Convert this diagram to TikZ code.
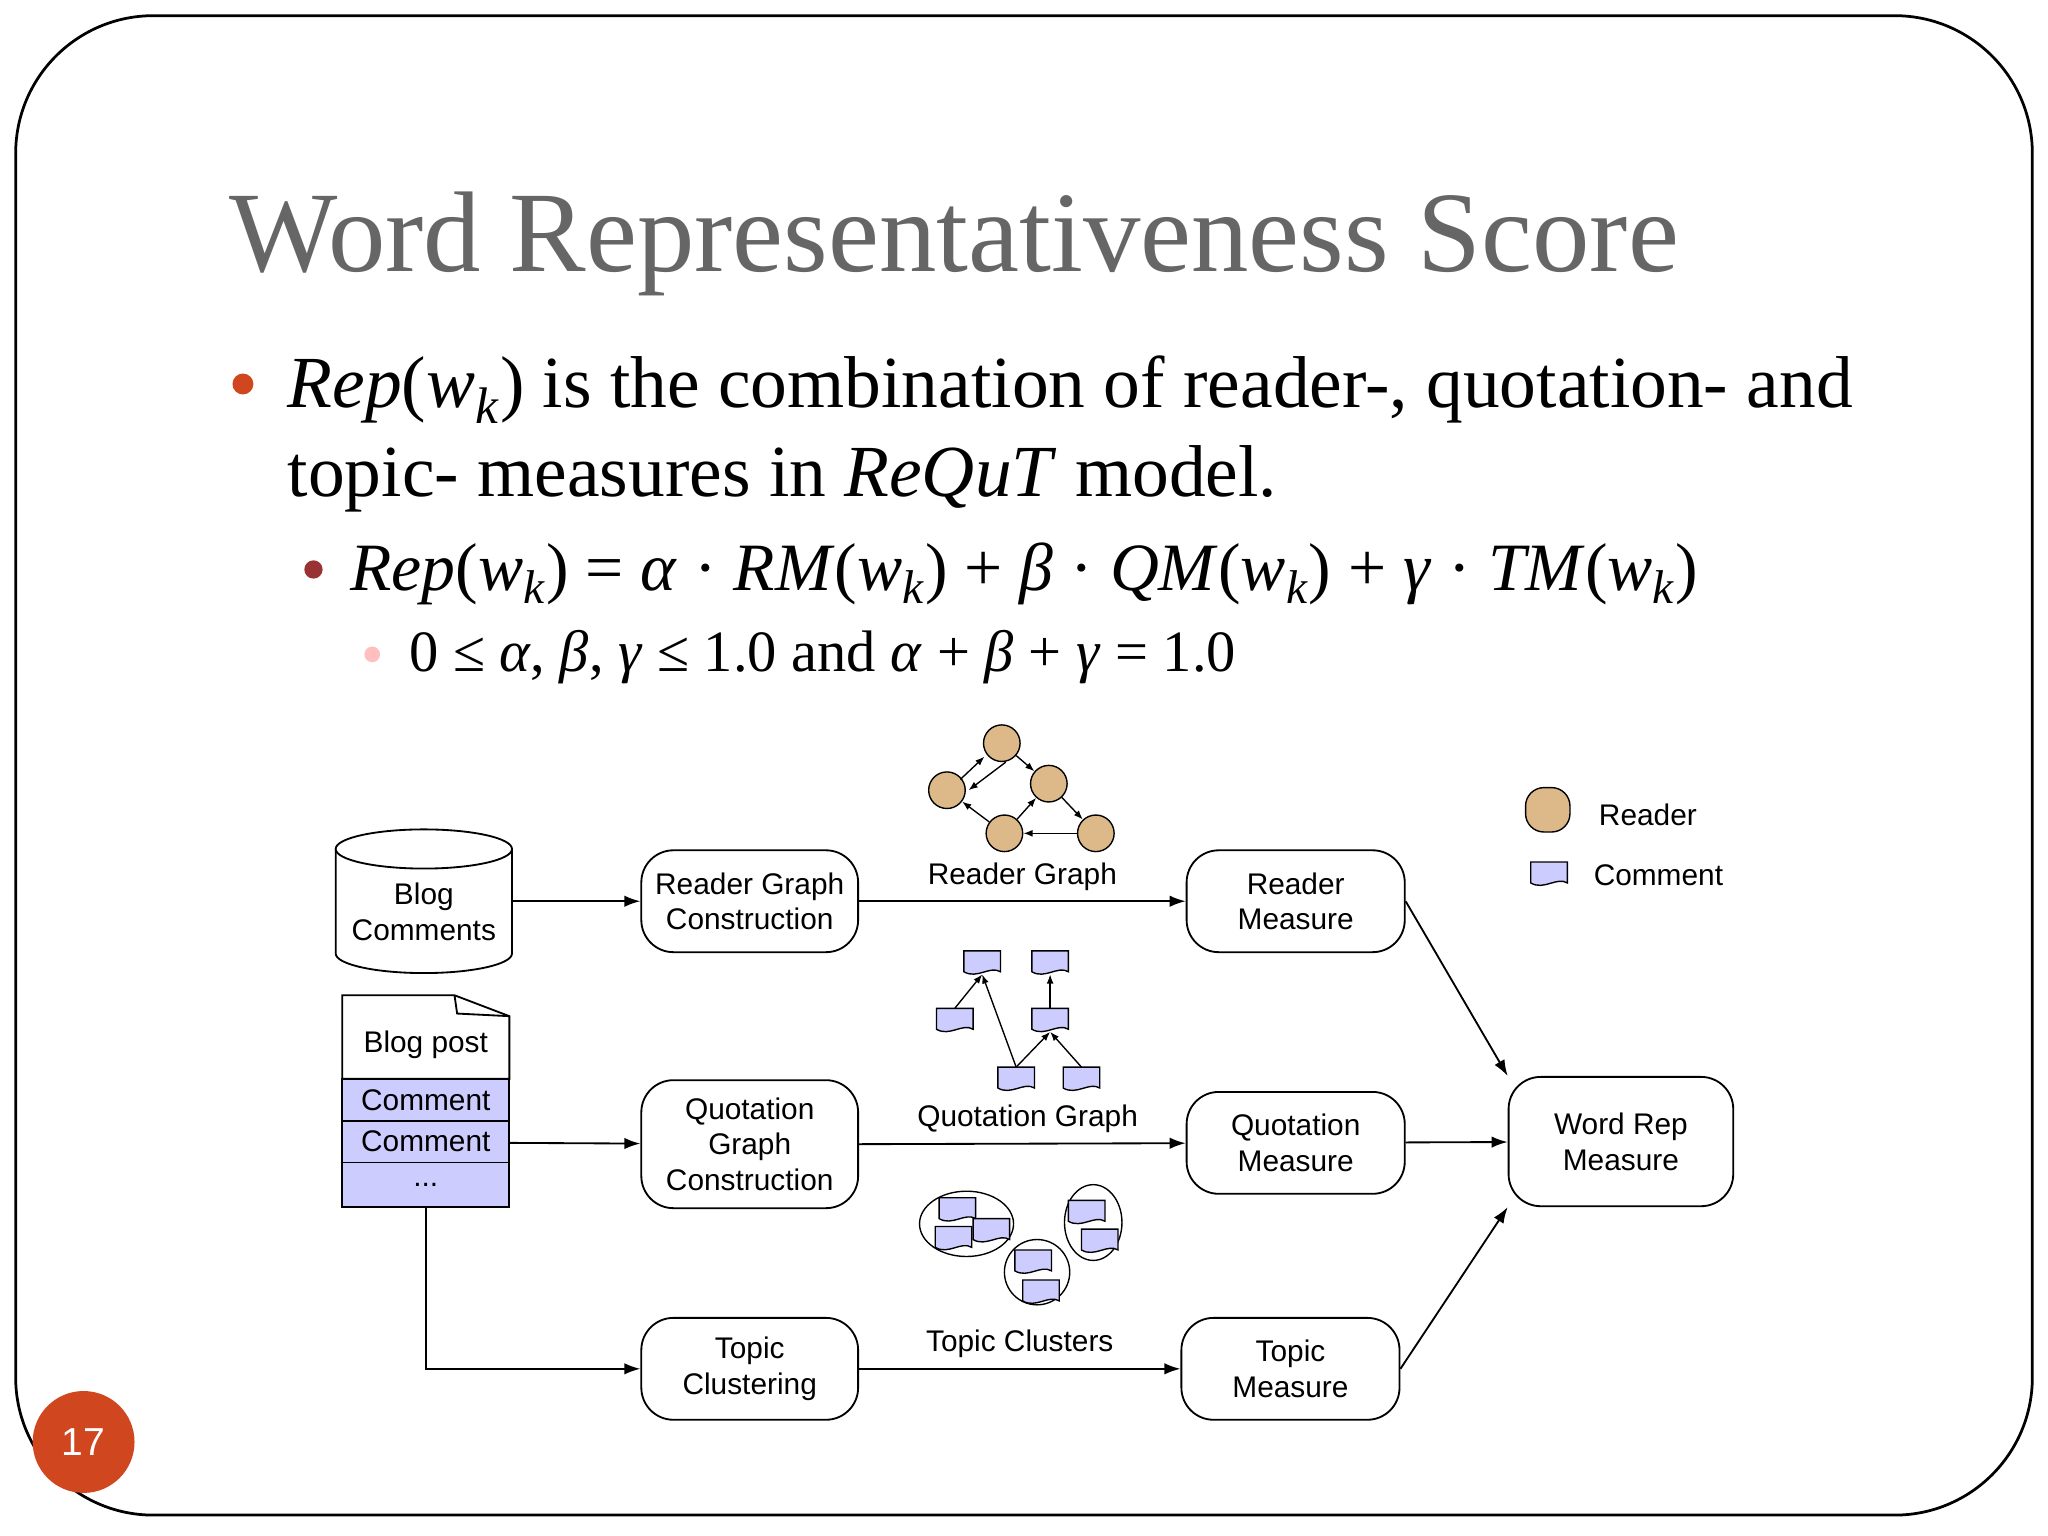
\documentclass[tikz,border=0pt]{standalone}
\usepackage{fontspec}
\setmainfont{Liberation Serif}
\newfontfamily\arialf{Liberation Sans}
\usetikzlibrary{arrows.meta,shapes.geometric}
\definecolor{lav}{HTML}{CCCCFF}
\definecolor{tan}{HTML}{DDB888}
\definecolor{orng}{HTML}{D0461E}
\tikzset{
 box/.style={draw,rounded corners=14pt,minimum width=166\u,minimum height=78\u,align=center,font=\arialf\fontsize{13}{15.5}\selectfont,thick},
 lab/.style={font=\arialf\fontsize{13}{15.5}\selectfont},
 arr/.style={-{Latex[length=7pt,width=5pt]},thick},
 sarr/.style={-{Latex[length=4pt,width=3pt]},semithick},
 rd/.style={circle,draw,fill=tan,minimum size=28\u,inner sep=0pt,semithick},
 pics/doc/.style={code={\draw[fill=lav,semithick] (-14,-9)--(14,-9)--(14,7) .. controls (6,2) and (-4,13) .. (-14,7) -- cycle;}},
}
\def\u{*0.02cm}
\begin{document}
\begin{tikzpicture}[x=0.02cm,y=-0.02cm]
\useasboundingbox (0,0) rectangle (1568,1176);
\fill[white] (0,0) rectangle (1568,1176);
\draw[line width=1.2pt,rounded corners=60] (12,12) rectangle (1556,1160);
% title
\node[anchor=base west,inner sep=0,text=black!60,font=\fontsize{50}{56}\selectfont] (title) at (175,208) {Word Representativeness Score};
\fill[orng] (186,294) circle (8);
\node[anchor=base west,inner sep=0,font=\fontsize{32}{40}\selectfont] (b1) at (220,312) {\textit{Rep}(\textit{w}\textsubscript{\textit{k}}) is the combination of reader-, quotation- and};
\node[anchor=base west,inner sep=0,font=\fontsize{32}{40}\selectfont] (b1b) at (220,380) {topic- measures in \textit{ReQuT} model.};
\fill[red!50!black!80] (240,436) circle (7);
\node[anchor=base west,inner sep=0,font=\fontsize{29.5}{36}\selectfont] (b2) at (268,452) {\textit{Rep}(\textit{w}\textsubscript{\textit{k}}) = \textit{α} · \textit{RM}(\textit{w}\textsubscript{\textit{k}}) + \textit{β} · \textit{QM}(\textit{w}\textsubscript{\textit{k}}) + \textit{γ} · \textit{TM}(\textit{w}\textsubscript{\textit{k}})};
\fill[red!25] (285,501) circle (6);
\node[anchor=base west,inner sep=0,font=\fontsize{25.5}{30}\selectfont] (b3) at (313,514) {0 ≤ \textit{α}, \textit{β}, \textit{γ} ≤ 1.0 and \textit{α} + \textit{β} + \textit{γ} = 1.0};
% page number
\fill[orng] (64,1104) circle (39);
\node[text=white,font=\arialf\fontsize{17}{20}\selectfont] (pn) at (64,1104) {17};
% blog comments cylinder
\draw[thick,fill=white] (257,650) -- (257,730) arc[x radius=67.5,y radius=15,start angle=180,end angle=0] -- (392,650);
\draw[thick,fill=white] (324.5,650) ellipse[x radius=67.5,y radius=15];
\node[lab,align=center] (bc) at (324.5,698) {Blog\\Comments};
\coordinate (bcr) at (392,690);
% blog post
\draw[thick,fill=white] (262,762) -- (348,762) -- (390,778) -- (390,826) -- (262,826) -- cycle;
\draw[thick] (348,762) -- (350,776) -- (390,778);
\node[lab] (bp) at (326,800) {Blog post};
\draw[thick,fill=lav] (262,826) rectangle (390,858);
\draw[thick,fill=lav] (262,858) rectangle (390,890);
\draw[thick,fill=lav] (262,890) rectangle (390,924);
\node[lab] (c1) at (326,842) {Comment};
\node[lab] (c2) at (326,874) {Comment};
\node[lab] (c3) at (326,907) {...};
\coordinate (bpr) at (390,875);
\coordinate (bpb) at (326,924);
\coordinate (bpc) at (326,1048);
% boxes
\node[box] (rgc) at (574,690) {Reader Graph\\Construction};
\node[box,minimum height=98\u] (qgc) at (574,876) {Quotation\\Graph\\Construction};
\node[box] (tc) at (574,1048) {Topic\\Clustering};
\node[box,minimum width=167\u] (rm) at (992,690) {Reader\\Measure};
\node[box,minimum width=167\u] (qm) at (992,875) {Quotation\\Measure};
\node[box,minimum width=167\u] (tm) at (988,1048) {Topic\\Measure};
\node[box,minimum width=172\u,minimum height=99\u] (wr) at (1241,874) {Word Rep\\Measure};
% arrows
\draw[arr] (bcr) -- (rgc);
\draw[arr] (bpr) -- (qgc);
\draw[arr] (bpb) -- (bpc) -- (tc);
\draw[arr] (rgc) -- node[lab,above=1pt] {Reader Graph} (rm);
\draw[arr] (qgc.east) -- node[lab,above=1pt,xshift=4\u] {Quotation Graph} (qm);
\draw[arr] (tc) -- node[lab,above=1pt] {Topic Clusters} (tm);
\draw[arr] (rm.east) -- (wr.north west);
\draw[arr] (qm) -- (wr);
\draw[arr] (tm.east) -- (wr.south west);
% reader graph icon
\node[rd] (r1) at (767,569) {};
\node[rd] (r2) at (725,605) {};
\node[rd] (r3) at (803,600) {};
\node[rd] (r4) at (769,638) {};
\node[rd] (r5) at (839,638) {};
\draw[sarr] ([yshift=-2\u]r2.north east) -- ([xshift=-3\u]r1.south west);
\draw[sarr] ([xshift=3\u]r1.south) -- ([xshift=2\u]r2.east);
\draw[sarr] (r1) -- (r3);
\draw[sarr] (r4) -- (r3);
\draw[sarr] (r3) -- (r5);
\draw[sarr] (r5) -- (r4);
\draw[sarr] (r4) -- (r2);
% quotation graph icon
\pic (q1) at (752,737) {doc};
\pic (q2) at (804,737) {doc};
\pic (q3) at (731,781) {doc};
\pic (q4) at (804,781) {doc};
\pic (q5) at (778,826) {doc};
\pic (q6) at (828,826) {doc};
\coordinate (q1b) at (752,746); \coordinate (q2b) at (804,746);
\coordinate (q3t) at (731,772); \coordinate (q4t) at (804,772); \coordinate (q4b) at (804,790);
\coordinate (q5t) at (778,817); \coordinate (q6t) at (828,817);
\draw[sarr] (q3t) -- (q1b);
\draw[sarr] (q5t) -- (q1b);
\draw[sarr] (q5t) -- (q4b);
\draw[sarr] (q6t) -- (q4b);
\draw[sarr] (q4t) -- (q2b);
% topic clusters
\draw[semithick] (740,937) ellipse[x radius=36,y radius=25];
\draw[semithick] (794,974) circle (25);
\draw[semithick] (837,936) ellipse[x radius=22,y radius=29];
\pic at (733,926) {doc}; \pic at (759,942) {doc}; \pic at (730,948) {doc};
\pic at (791,966) {doc}; \pic at (797,989) {doc};
\pic at (832,928) {doc}; \pic at (842,950) {doc};
% legend
\node[rd,minimum size=34\u,rounded corners=8pt,rectangle] (lr) at (1185,620) {};
\node[lab,anchor=west] (lrt) at (1218,624) {Reader};
\pic (lc) at (1186,669) {doc};
\node[lab,anchor=west] (lct) at (1214,670) {Comment};
\end{tikzpicture}
\end{document}
